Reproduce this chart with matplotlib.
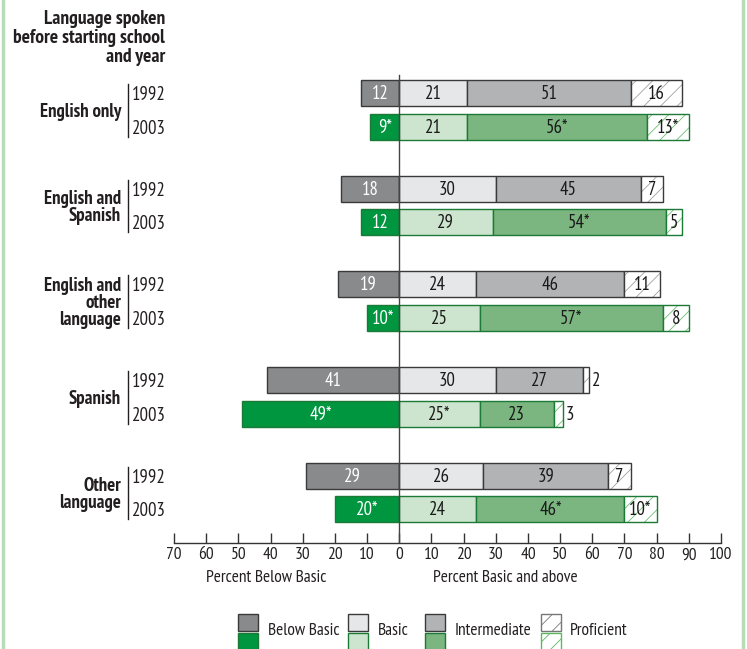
import matplotlib
matplotlib.use("Agg")
import matplotlib.pyplot as plt
from matplotlib.patches import Rectangle
from matplotlib.lines import Line2D
import numpy as np

plt.rcParams['font.family'] = ['Myriad Pro', 'PT Sans Narrow', 'Roboto Condensed',
                               'Fira Sans Condensed', 'Archivo Narrow', 'Liberation Sans Narrow',
                               'DejaVu Sans']
plt.rcParams['hatch.linewidth'] = 0.6

# ---------------- data ----------------
groups = ["English only", "English and\nSpanish", "English and\nother\nlanguage", "Spanish", "Other\nlanguage"]
years = ["1992", "2003"]
below_1992 = [12, 18, 19, 41, 29]
basic_1992 = [21, 30, 24, 30, 26]
inter_1992 = [51, 45, 46, 27, 39]
prof_1992 = [16, 7, 11, 2, 7]
below_2003 = [9, 12, 10, 49, 20]
basic_2003 = [21, 29, 25, 25, 24]
inter_2003 = [56, 54, 57, 23, 46]
prof_2003 = [13, 5, 8, 3, 10]
# significance markers for 2003
below_2003_sig = [True, False, True, True, True]
basic_2003_sig = [False, False, False, True, False]
inter_2003_sig = [True, True, True, False, True]
prof_2003_sig = [True, False, False, False, True]
legend_labels = ["Below Basic", "Basic", "Intermediate", "Proficient"]
xticks = list(range(-70, 101, 10))

# ---------------- style ----------------
W, H = 747, 649
fig = plt.figure(figsize=(W / 100, H / 100), dpi=100)

def fx(x):
    return x / W

def fy(y):
    return 1 - y / H

cols92 = ["#898a8c", "#e6e7e8", "#b1b3b5", "white"]
cols03 = ["#00953f", "#cde5cf", "#7bb57f", "white"]
edge92 = "#3a3a3a"
edge03 = "#1b7a35"
hatch92 = "#a0a0a0"
hatch03 = "#6cc070"
FS_BAR = 13.5
FS_TICK = 12.5
FS_SMALL = 12.5

ax_left, ax_right, ax_top, ax_bot = 174, 721, 70, 543
ax = fig.add_axes([fx(ax_left), fy(ax_bot), fx(ax_right - ax_left), (ax_bot - ax_top) / H])
ax.set_xlim(-70, 100)
ax.set_ylim(ax_bot, ax_top)
ax.patch.set_alpha(0)
for s in ["top", "left", "right"]:
    ax.spines[s].set_visible(False)
ax.spines["bottom"].set_color("#333333")
ax.spines["bottom"].set_linewidth(1.0)
ax.set_yticks([])
ax.set_xticks(xticks)
ax.set_xticklabels([str(abs(t)) for t in xticks], fontsize=FS_TICK)
ax.tick_params(axis="x", direction="in", length=7, width=1, color="#333333", pad=3,
               labelcolor="#231f20")

bar_h = 26
group_y0 = 93
group_step = 95.7
year_off = 33.5

def ypos(g, k):
    return group_y0 + group_step * g + year_off * k

def draw_row(g, k, vals, sigs, cols, edge, hatchc):
    y = ypos(g, k)
    below, basic, inter, prof = vals
    ax.barh(y, -below, left=0, height=bar_h, color=cols[0], edgecolor=edge, linewidth=1.0)
    lefts = [0, basic, basic + inter]
    widths = [basic, inter, prof]
    for i in range(3):
        c = cols[i + 1]
        if i == 2:
            ax.barh(y, widths[i], left=lefts[i], height=bar_h, color="white",
                    edgecolor=hatchc, hatch="//", linewidth=0)
            ax.barh(y, widths[i], left=lefts[i], height=bar_h, fill=False,
                    edgecolor=edge, linewidth=1.0)
        else:
            ax.barh(y, widths[i], left=lefts[i], height=bar_h, color=c,
                    edgecolor=edge, linewidth=1.0)
    def lab(v, s):
        return f"{v}*" if s else f"{v}"
    ax.text(-below / 2, y + 1, lab(below, sigs[0]), ha="center", va="center",
            color="white", fontsize=FS_BAR)
    for i in range(3):
        v = widths[i]
        t = lab(v, sigs[i + 1])
        if v >= 4:
            ax.text(lefts[i] + v / 2, y + 1, t, ha="center", va="center",
                    color="#1a1a1a", fontsize=FS_BAR)
        else:
            ax.text(lefts[i] + v + 0.8, y + 1, t, ha="left", va="center",
                    color="#1a1a1a", fontsize=FS_BAR)

for g in range(len(groups)):
    draw_row(g, 0, [below_1992[g], basic_1992[g], inter_1992[g], prof_1992[g]],
             [False] * 4, cols92, edge92, hatch92)
    draw_row(g, 1, [below_2003[g], basic_2003[g], inter_2003[g], prof_2003[g]],
             [below_2003_sig[g], basic_2003_sig[g], inter_2003_sig[g], prof_2003_sig[g]],
             cols03, edge03, hatch03)

ax.plot([0, 0], [75, ax_bot], color="#444444", linewidth=1.0, zorder=5)

# ---------------- left labels ----------------
fig.text(fx(165), fy(38), "Language spoken\nbefore starting school\nand year", ha="right",
         va="center", fontsize=14, fontweight="bold", linespacing=1.05, color="#231f20")

for g, name in enumerate(groups):
    y1, y2 = ypos(g, 0), ypos(g, 1)
    fig.text(fx(121), fy((y1 + y2) / 2 + 2), name, ha="right", va="center", fontsize=13.5,
             fontweight="bold", multialignment="right", linespacing=0.95, color="#231f20")
    fig.add_artist(Line2D([fx(128), fx(128)], [fy(y1 - 9), fy(y2 + 10)],
                          color="#231f20", linewidth=1.0))
    for k, yr in enumerate(years):
        fig.text(fx(132), fy(ypos(g, k) + 2), yr, ha="left", va="center",
                 fontsize=13.5, color="#231f20")

fig.text(fx(266), fy(578), "Percent Below Basic", ha="center", va="center", fontsize=FS_SMALL,
         color="#231f20")
fig.text(fx(505), fy(578), "Percent Basic and above", ha="center", va="center", fontsize=FS_SMALL,
         color="#231f20")

# ---------------- legend ----------------
leg_x = [238, 348, 425, 541]
leg_tx = [268, 378, 455, 570]
for i, lbl in enumerate(legend_labels):
    x0 = leg_x[i]
    top = Rectangle((fx(x0), fy(631)), fx(20), 17 / H, transform=fig.transFigure,
                    facecolor=cols92[i], edgecolor=edge92 if i < 3 else "#777777",
                    linewidth=1.0, hatch="//" if i == 3 else None)
    bot = Rectangle((fx(x0), fy(651)), fx(20), 18 / H, transform=fig.transFigure,
                    facecolor=cols03[i], edgecolor=edge03 if i < 3 else "#5cb860",
                    linewidth=1.0, hatch="//" if i == 3 else None)
    fig.add_artist(top)
    fig.add_artist(bot)
    fig.text(fx(leg_tx[i]), fy(631), lbl, ha="left", va="center", fontsize=FS_SMALL, color="#231f20")

fig.add_artist(Line2D([fx(2.5), fx(2.5)], [0, 1], color="#b7dcb7", linewidth=2.5))
fig.add_artist(Line2D([fx(743), fx(743)], [0, 1], color="#b7dcb7", linewidth=2.5))

fig.savefig("out.png", dpi=100)
